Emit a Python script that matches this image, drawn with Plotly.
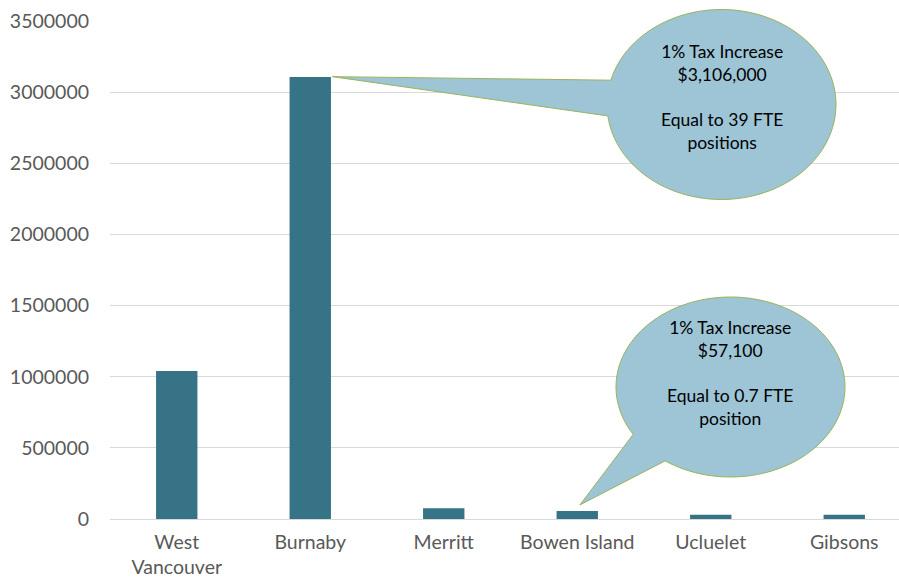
import numpy as np
import plotly.graph_objects as go

categories = ["West<br>Vancouver", "Burnaby", "Merritt", "Bowen Island", "Ucluelet", "Gibsons"]
tax_increase = [1040000, 3106000, 76000, 57100, 29000, 30000]

callout_burnaby = "1% Tax Increase<br>$3,106,000<br><br>Equal to 39 FTE<br>positions"
callout_bowen = "1% Tax Increase<br>$57,100<br><br>Equal to 0.7 FTE<br>position"

W, H = 899, 580
ML, MR, MT, MB = 110, 0, 21, 61
PW, PH = W - ML - MR, H - MT - MB
XR = [-0.5, -0.5 + PW / 133.5]
YR = [0, 3500000]
BAR_W = 0.31

def px2paper(X, Y):
    return (X - ML) / PW, (H - MB - Y) / PH

def data2px(c, v):
    X = ML + (c - XR[0]) / (XR[1] - XR[0]) * PW
    Y = H - MB - (v - YR[0]) / (YR[1] - YR[0]) * PH
    return X, Y

def bubble_path(cx, cy, rx, ry, b1, b2, tip):
    t1 = np.arctan2((b1[1] - cy) / ry, (b1[0] - cx) / rx)
    t2 = np.arctan2((b2[1] - cy) / ry, (b2[0] - cx) / rx)
    d = (t2 - t1) % (2 * np.pi)
    if d > np.pi:
        ts = np.linspace(t1, t1 + d, 120)
    else:
        ts = np.linspace(t1, t1 - (2 * np.pi - d), 120)
    pts = [px2paper(cx + rx * np.cos(t), cy + ry * np.sin(t)) for t in ts]
    pts.append(px2paper(*tip))
    path = "M " + " L ".join(f"{x:.5f},{y:.5f}" for x, y in pts) + " Z"
    return path

fig = go.Figure()
fig.add_trace(go.Bar(
    x=list(range(len(categories))), y=tax_increase, width=BAR_W,
    marker=dict(color="#377387", line=dict(width=0)),
    hoverinfo="skip",
))

# callout 1 (Burnaby)
tip1 = data2px(1 + BAR_W / 2 + 0.01, tax_increase[1] + 3000)
p1 = bubble_path(721.5, 104.5, 114.5, 95, (610, 80), (607, 116), tip1)
# callout 2 (Bowen Island)
tip2 = data2px(3 + 0.02, tax_increase[3] + 42000)
p2 = bubble_path(730.5, 387, 114.5, 90, (634, 434), (665, 461), tip2)

shapes = []
for p in (p1, p2):
    shapes.append(dict(type="path", path=p, xref="paper", yref="paper",
                       fillcolor="#9dc5d6", line=dict(color="#9bb35a", width=1), layer="above"))

annots = []
for txt, (X, Y) in ((callout_burnaby, (722, 97)), (callout_bowen, (730, 373))):
    ax, ay = px2paper(X, Y)
    annots.append(dict(text=txt, x=ax, y=ay, xref="paper", yref="paper", showarrow=False,
                       xanchor="center", yanchor="middle", align="center",
                       font=dict(family="Lato, sans-serif", size=17.5, color="#000000")))

fig.update_layout(
    width=W, height=H, margin=dict(l=ML, r=MR, t=MT, b=MB),
    plot_bgcolor="white", paper_bgcolor="white", showlegend=False,
    shapes=shapes, annotations=annots,
    font=dict(family="Lato, sans-serif", size=20, color="#595959"),
)
fig.update_xaxes(range=XR, tickmode="array", tickvals=list(range(len(categories))),
                 ticktext=categories, showgrid=False, showline=False, zeroline=False,
                 ticks="", ticklabelstandoff=9, fixedrange=True, automargin=False,
                 tickfont=dict(size=19.5))
fig.update_yaxes(range=YR, dtick=500000, tickformat="d", showgrid=True, gridcolor="#d9d9d9",
                 gridwidth=1, zeroline=True, zerolinecolor="#d9d9d9", zerolinewidth=1,
                 showline=False, ticks="", ticklabelstandoff=20, fixedrange=True,
                 automargin=False, tickfont=dict(size=19.5))

fig.write_html("out.html", config={"displayModeBar": False})
